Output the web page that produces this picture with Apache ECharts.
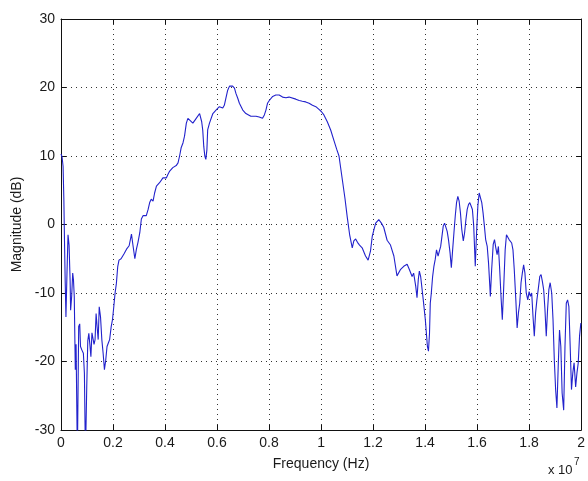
<!DOCTYPE html>
<html>
<head>
<meta charset="utf-8">
<script src="https://cdn.jsdelivr.net/npm/echarts@6/dist/echarts.min.js"></script>
<style>
html,body{margin:0;padding:0;background:#fff;}
#chart{width:588px;height:481px;}
</style>
</head>
<body>
<div id="chart"></div>
<script>
// Frequency in units of 1e7 Hz (axis shows "x 10^7")
const freq = [
0.000,0.004,0.008,0.011,0.014,0.016,0.019,0.023,0.027,0.031,0.035,0.037,0.041,0.045,0.048,0.051,0.055,0.058,0.063,0.068,
0.072,0.075,0.080,0.086,0.090,0.094,0.099,0.103,0.107,0.111,0.115,0.119,0.123,0.127,0.131,0.135,0.139,0.143,0.147,0.152,
0.157,0.162,0.167,0.172,0.177,0.182,0.187,0.193,0.198,0.203,0.208,0.213,0.218,0.223,0.231,
0.242,0.252,0.262,0.271,0.277,0.284,0.290,0.296,0.303,0.309,0.316,0.328,0.335,0.341,0.347,0.354,0.360,0.367,0.379,0.392,
0.398,0.405,0.411,0.418,0.430,0.443,0.450,0.456,0.462,0.469,0.475,0.482,0.488,0.494,0.507,0.520,0.533,0.536,0.541,0.545,
0.549,0.553,0.557,0.561,0.564,0.571,0.584,0.596,0.609,0.615,0.622,0.628,0.635,0.641,0.648,0.660,0.667,0.673,0.680,0.686,
0.699,0.711,0.730,0.737,0.750,0.762,0.775,0.782,0.788,0.794,0.801,0.814,0.826,0.839,0.852,0.865,0.877,0.884,0.903,0.916,
0.928,0.941,0.954,0.967,0.980,0.992,1.001,1.011,1.024,1.037,1.050,1.060,1.069,
1.082,1.092,1.101,1.110,1.120,1.126,1.133,1.140,1.148,1.158,1.171,1.181,1.190,1.197,1.210,1.222,1.232,1.241,1.254,1.267,
1.280,1.292,1.305,1.318,1.331,1.340,1.350,1.356,1.364,1.369,1.374,1.378,1.383,1.393,1.401,1.409,1.413,1.417,1.420,1.424,
1.429,1.434,1.439,1.444,1.450,1.455,1.460,1.465,1.470,1.475,1.480,1.485,1.490,1.496,1.501,1.506,1.511,1.516,1.521,1.526,
1.531,1.536,1.541,1.547,1.552,1.557,1.562,1.567,1.572,1.577,1.582,1.587,1.593,1.598,1.603,1.608,1.613,1.618,1.623,1.628,
1.633,1.639,1.644,1.649,1.651,1.656,1.662,1.667,1.672,1.677,1.682,1.687,1.692,1.697,1.702,1.708,1.713,1.718,1.723,1.728,
1.733,1.738,1.743,1.749,1.754,1.759,1.764,1.769,1.774,1.779,1.784,1.789,1.795,1.800,1.805,1.810,1.815,1.820,1.825,1.830,
1.835,1.841,1.846,1.851,1.856,1.861,1.866,1.871,1.876,1.881,1.887,1.892,1.897,1.902,1.907,1.912,1.917,1.922,1.927,1.933,
1.938,1.943,1.948,1.953,1.958,1.963,1.968,1.973,1.979,1.984,1.989,1.994,1.999
];
// Magnitude in dB
const magnitude = [
10.3,9.9,8.5,3.6,-3.7,-8.1,-13.5,-7.1,-1.5,-3.0,-8.1,-12.5,-10.5,-7.1,-8.1,-10.5,-21.2,-17.5,-34,-14.9,
-14.5,-17.8,-18.3,-18.8,-21.7,-34,-23.7,-17.0,-15.9,-17.5,-19.3,-15.8,-15.6,-17.5,-16.8,-13.0,-15.0,-16.8,-12.0,-13.5,
-16.8,-18.8,-21.2,-19.8,-17.8,-17.3,-16.8,-14.9,-13.9,-12.0,-10.0,-8.6,-6.2,-5.2,-5.0,
-4.3,-3.6,-3.1,-1.4,-3.1,-5.0,-3.6,-2.6,-1.2,0.8,1.3,1.3,2.2,3.2,3.7,3.4,4.6,5.6,6.1,6.8,
7.0,6.8,7.3,7.8,8.3,8.6,9.0,10.0,11.2,11.9,12.9,14.8,15.5,15.3,14.8,15.5,16.2,16.2,15.0,13.8,
11.4,10.0,9.5,10.9,13.8,14.8,16.2,16.7,17.2,17.0,17.0,17.4,18.6,19.6,20.2,20.2,19.9,19.1,18.4,17.7,
16.7,16.2,15.8,16.0,15.8,15.7,15.5,16.0,16.7,17.7,18.1,18.7,18.9,18.9,18.6,18.5,18.6,18.4,18.3,18.1,
18.0,17.9,17.7,17.4,17.2,16.8,16.5,16.0,15.0,13.8,12.2,11.0,10.0,
6.5,3.8,1.0,-1.5,-3.4,-2.4,-2.1,-2.6,-3.0,-3.4,-4.6,-5.2,-3.9,-1.7,0.2,0.7,0.2,-0.4,-2.3,-3.0,
-4.6,-7.5,-6.6,-6.1,-5.8,-6.6,-7.6,-7.1,-9.0,-10.7,-8.0,-6.8,-7.6,-11.0,-13.9,-17.8,-18.5,-15.9,-11.5,-10.0,
-7.6,-6.1,-5.1,-3.7,-4.6,-3.9,-3.2,-1.7,-0.2,0.2,0.0,-1.0,-2.2,-4.1,-6.3,-3.7,-1.2,1.2,3.2,4.1,
3.4,1.7,-0.7,-2.4,-1.2,0.7,2.2,2.9,3.2,2.7,2.2,-0.2,-6.1,-1.2,2.7,4.6,4.4,3.2,1.7,-0.2,
-2.2,-3.2,-5.6,-9.0,-10.5,-6.6,-2.9,-2.2,-3.4,-4.4,-3.2,-6.6,-10.5,-13.9,-9.5,-3.7,-1.5,-1.7,-2.2,-2.4,
-2.7,-3.7,-6.6,-11.0,-15.1,-12.9,-11.5,-8.5,-7.1,-5.9,-7.1,-10.0,-11.0,-9.8,-10.5,-10.0,-13.4,-16.3,-12.9,-11.0,
-9.5,-7.6,-7.3,-8.3,-9.5,-12.4,-16.3,-12.4,-9.5,-8.5,-10.0,-13.9,-19.8,-24.1,-26.8,-20.7,-15.4,-17.8,-24.6,-27.1,
-17.8,-11.5,-11.0,-12.0,-17.8,-24.1,-21.7,-20.2,-23.7,-21.7,-20.2,-16.3,-14.4
];
const xTicks = {min: 0, max: 2, interval: 0.2};
const yTicks = {min: -30, max: 30, interval: 10};
const xTitle = 'Frequency (Hz)';
const yTitle = 'Magnitude (dB)';

const FONT = "'Liberation Sans', Arial, Helvetica, sans-serif";
const TXT = '#1a1a1a';
const gridLine = {show: true, lineStyle: {color: '#333', width: 1, type: [1, 4]}};
const axLine = {show: true, onZero: false, lineStyle: {color: '#111', width: 1}};
const tick = {show: true, inside: true, length: 5, lineStyle: {color: '#111'}};

const chart = echarts.init(document.getElementById('chart'), null, {renderer: 'canvas'});
chart.setOption({
  backgroundColor: '#fff',
  animation: false,
  grid: {left: 61, right: 5, top: 19, bottom: 51},
  xAxis: [{
    type: 'value', position: 'bottom', min: xTicks.min, max: xTicks.max, interval: xTicks.interval,
    name: xTitle, nameLocation: 'middle', nameGap: 27,
    nameTextStyle: {fontFamily: FONT, fontSize: 14, color: TXT},
    axisLine: axLine, axisTick: tick, splitLine: gridLine,
    axisLabel: {fontFamily: FONT, fontSize: 14, color: TXT, margin: 6,
      formatter: v => String(Number(v.toFixed(1)))}
  }, {
    type: 'value', position: 'top', min: xTicks.min, max: xTicks.max, interval: xTicks.interval,
    axisLine: axLine, axisTick: tick, splitLine: {show: false}, axisLabel: {show: false}
  }],
  yAxis: [{
    type: 'value', position: 'left', min: yTicks.min, max: yTicks.max, interval: yTicks.interval,
    name: yTitle, nameLocation: 'middle', nameGap: 30, nameRotate: 90,
    nameTextStyle: {fontFamily: FONT, fontSize: 14, color: TXT},
    axisLine: axLine, axisTick: tick, splitLine: gridLine,
    axisLabel: {fontFamily: FONT, fontSize: 14, color: TXT, margin: 6}
  }, {
    type: 'value', position: 'right', min: yTicks.min, max: yTicks.max, interval: yTicks.interval,
    axisLine: axLine, axisTick: tick, splitLine: {show: false}, axisLabel: {show: false}
  }],
  graphic: [
    {type: 'text', left: 548, top: 464, style: {text: 'x 10', font: "13px " + FONT, fill: TXT}},
    {type: 'text', left: 574, top: 457, style: {text: '7', font: "10px " + FONT, fill: TXT}}
  ],
  series: [{
    type: 'line',
    xAxisIndex: 0, yAxisIndex: 0,
    data: freq.map((f, i) => [f, magnitude[i]]),
    showSymbol: false, symbol: 'none',
    clip: true,
    lineStyle: {color: '#2222cc', width: 1.1},
    silent: true
  }]
});
</script>
</body>
</html>
